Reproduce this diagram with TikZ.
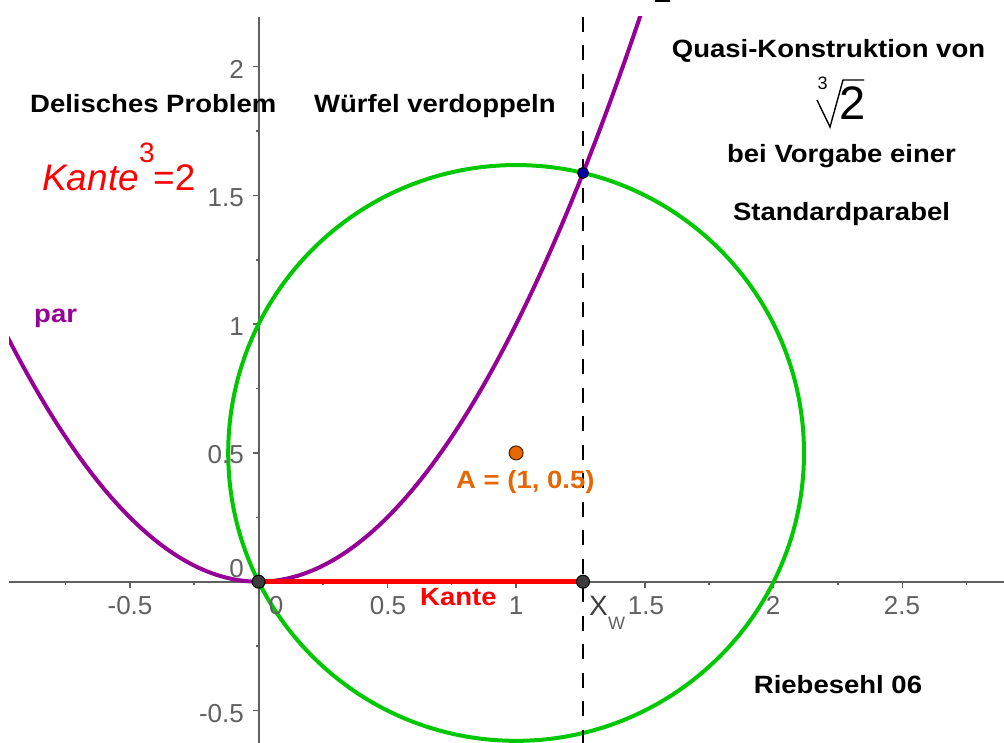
\documentclass[tikz,border=0pt]{standalone}
\usepackage{fontspec}
\setmainfont{Liberation Sans}
\newfontfamily\gfont[FakeStretch=1.1]{Liberation Sans}
\definecolor{axgray}{RGB}{96,96,96}
\definecolor{parpurple}{RGB}{150,0,150}
\definecolor{cgreen}{RGB}{0,200,0}
\definecolor{aorange}{RGB}{230,102,0}
\definecolor{ptgray}{RGB}{60,60,60}
\definecolor{ptblue}{RGB}{0,0,170}
\definecolor{xwgray}{RGB}{64,64,64}
\begin{document}
\begin{tikzpicture}[x=1pt,y=-1pt,
  lbl/.style={font=\gfont\bfseries\fontsize{25}{30}\selectfont, inner sep=0pt},
  tlab/.style={font=\fontsize{26}{30}\selectfont, text=axgray, inner sep=0pt},
  axisline/.style={draw=axgray, line width=2pt},
  tickline/.style={draw=axgray, line width=1.5pt},
  gpoint/.style={circle, inner sep=0pt, minimum size=13pt, line width=1pt, draw=black}
]
\useasboundingbox (0,0) rectangle (1004,743);
% key coordinates (pixel frame, y downward)
\coordinate (O) at (258.6,581.7);
\coordinate (XW) at (583,581.7);
\coordinate (S) at (583,172.9);
\coordinate (A) at (516.1,452.95);
\coordinate (XWtop) at (583,17);
\coordinate (XWbot) at (583,743);
\coordinate (xaxL) at (9,581.7);
\coordinate (xaxR) at (1004,581.7);
\coordinate (yaxT) at (258.6,17);
\coordinate (yaxB) at (258.6,743);

% cut-off fragment at top
\fill (655,0) rectangle (670,2);

\begin{scope}
  \clip (9,17) rectangle (1004,743);
  % axes
  \draw[axisline] (xaxL) -- (xaxR);
  \draw[axisline] (yaxT) -- (yaxB);
  \foreach \k in {-0.5,0.5,1,1.5,2,2.5}
    \draw[tickline] ({258.6+257.5*\k},581.7) -- ++(0,6);
  \foreach \k in {-0.75,-0.25,0.25,0.75,1.25,1.75,2.25,2.75}
    \draw[tickline] ({258.6+257.5*\k},581.7) -- ++(0,3);
  \foreach \k in {-0.5,0.5,1,1.5,2}
    \draw[tickline] (258.6,{581.7-257.5*\k}) -- ++(-6,0);
  \foreach \k in {-0.25,0.25,0.75,1.25,1.75}
    \draw[tickline] (258.6,{581.7-257.5*\k}) -- ++(-3,0);
  % curves in math coordinates
  \begin{scope}[shift={(258.6,581.7)}]
    \begin{scope}[x=257.5pt,y=257.5pt]
      \draw[cgreen, line width=4pt] (1,0.5) circle[radius=1.1180];
      \draw[parpurple, line width=4pt, domain=-0.975:1.5, samples=150, smooth] plot (\x,{\x*\x});
    \end{scope}
  \end{scope}
  % dashed vertical line
  \draw[black, line width=1.8pt, dash pattern=on 15pt off 13.5pt] (XWtop) -- (XWbot);
\end{scope}

% tick labels x
\node[tlab, anchor=base] (tx1) at (130,614) {-0.5};
\node[tlab, anchor=base] (tx2) at (276,614) {0};
\node[tlab, anchor=base] (tx3) at (388,614) {0.5};
\node[tlab, anchor=base] (tx4) at (516,614) {1};
\node[tlab, anchor=base] (tx5) at (646,614) {1.5};
\node[tlab, anchor=base] (tx6) at (773,614) {2};
\node[tlab, anchor=base] (tx7) at (902,614) {2.5};
% tick labels y
\node[tlab, anchor=base east] (ty1) at (244,79) {2};
\node[tlab, anchor=base east] (ty2) at (244,207) {1.5};
\node[tlab, anchor=base east] (ty3) at (244,335) {1};
\node[tlab, anchor=base east] (ty4) at (244,463) {0.5};
\node[tlab, anchor=base east] (ty5) at (244,577) {0};
\node[tlab, anchor=base east] (ty6) at (244,722) {-0.5};

% red segment Kante
\draw[red, line width=4.5pt] (O) -- (XW);

% points
\node[gpoint, fill=ptgray] (Op) at (O) {};
\node[gpoint, fill=ptgray] (XWp) at (XW) {};
\node[gpoint, fill=ptblue, minimum size=11pt] (Sp) at (S) {};
\node[gpoint, fill=aorange, draw=black!70!aorange, minimum size=14pt] (Ap) at (A) {};

% labels
\node[lbl, anchor=base west] (t1) at (30,113) {Delisches Problem};
\node[lbl, anchor=base west] (t2) at (314,113) {Würfel verdoppeln};
\node[lbl, anchor=base] (t3) at (828.5,58) {Quasi-Konstruktion von};
\node[lbl, anchor=base] (t4) at (841.5,163) {bei Vorgabe einer};
\node[lbl, anchor=base] (t5) at (841.5,221) {Standardparabel};
\node[lbl, anchor=base] (t6) at (838,693) {Riebesehl 06};
\node[lbl, anchor=base west, text=parpurple] (tpar) at (34,323) {par};
\node[lbl, anchor=base west, text=red] (tkante) at (420,605) {Kante};
\node[lbl, anchor=base west, text=aorange] (tA) at (456,488) {A = (1, 0.5)};
\node[inner sep=0pt, anchor=base west, text=xwgray, font=\fontsize{28}{30}\selectfont] (tX) at (589,615) {X};
\node[inner sep=0pt, anchor=base west, text=axgray, font=\fontsize{18}{20}\selectfont] (tW) at (608,629) {W};

% Kante^3 = 2
\node[inner sep=0pt, anchor=base west, text=red, font=\itshape\fontsize{37}{40}\selectfont] (k1) at (42,191) {Kante};
\node[inner sep=0pt, anchor=base west, text=red, font=\fontsize{28}{30}\selectfont] (k2) at (139,163) {3};
\node[inner sep=0pt, anchor=base west, text=red, font=\fontsize{37}{40}\selectfont] (k3) at (153,191) {=2};

% cube root of 2
\node[inner sep=0pt, anchor=base, font=\fontsize{18}{20}\selectfont] (r3) at (822.5,90) {3};
\node[inner sep=0pt, anchor=base, font=\fontsize{47}{50}\selectfont] (r2) at (853,120) {2};
\draw[black, line width=1.4pt, line join=miter] (817,100) -- (830,127) -- (843,80) -- (864,80);
\end{tikzpicture}
\end{document}
